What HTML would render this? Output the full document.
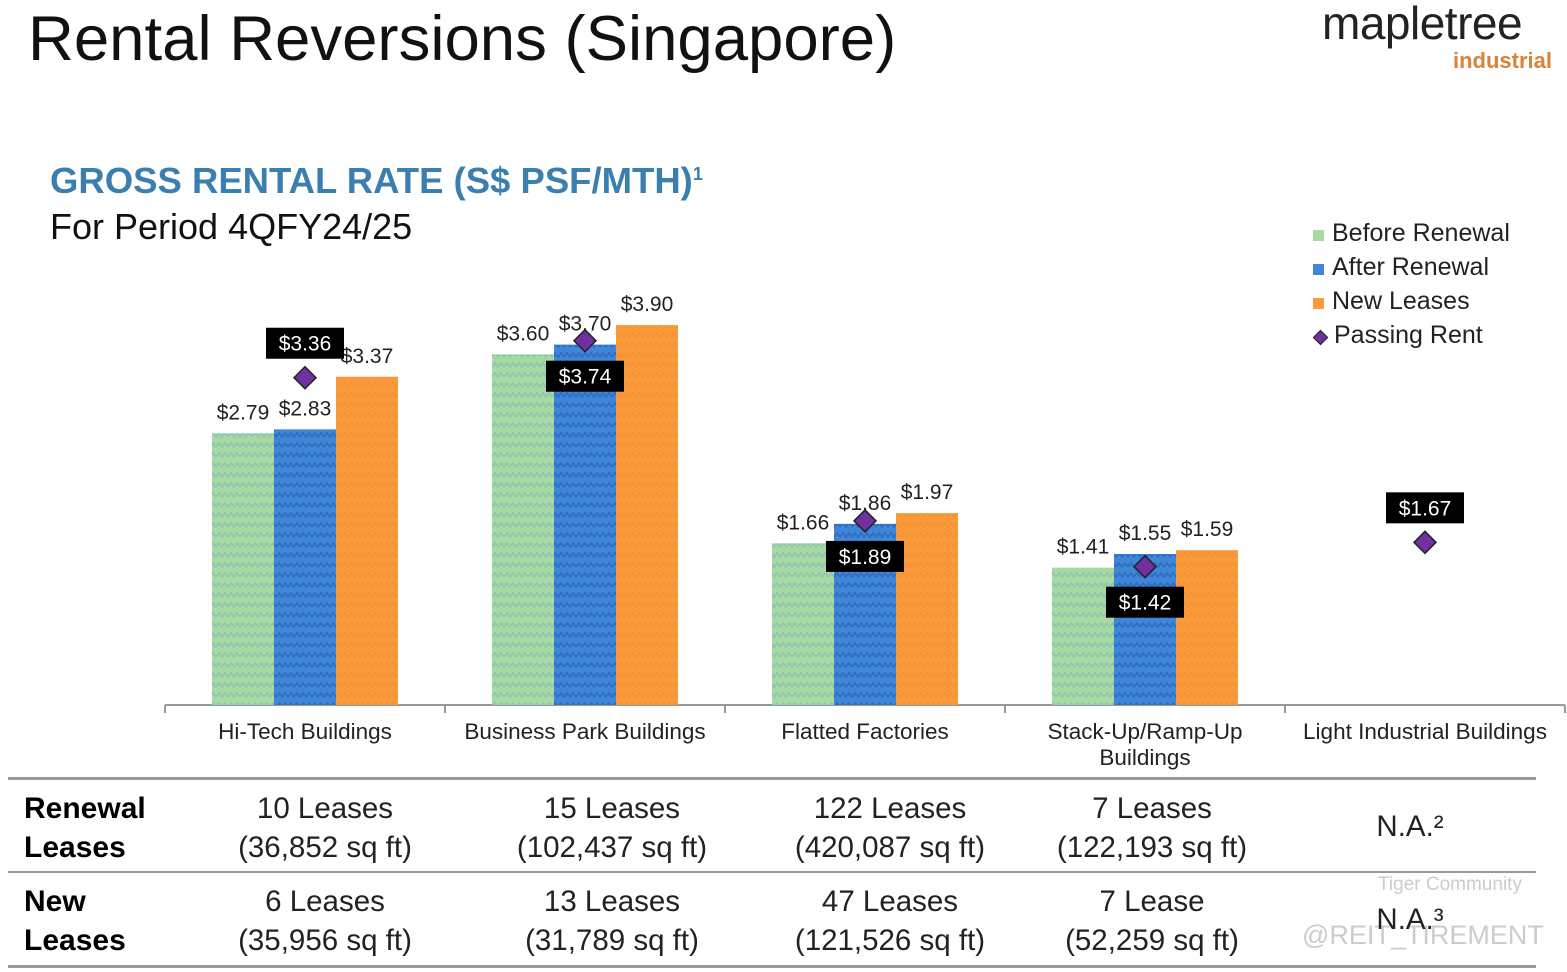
<!DOCTYPE html>
<html><head><meta charset="utf-8"><style>
body{margin:0;width:1567px;height:972px;background:#fff;font-family:"Liberation Sans",sans-serif;position:relative;overflow:hidden}
.a{position:absolute;white-space:nowrap}
</style></head><body>
<div class="a" style="left:28px;top:3px;font-size:63.5px;color:#111">Rental Reversions (Singapore)</div>
<div class="a" style="left:1322px;top:-4px;font-size:46px;color:#222;letter-spacing:-0.5px">mapletree</div>
<div class="a" style="left:1453px;top:48px;font-size:22px;color:#d9823a;font-weight:bold">industrial</div>
<div class="a" style="left:50px;top:160px;font-size:36.5px;color:#3a7fb0;font-weight:bold">GROSS RENTAL RATE (S$ PSF/MTH)<sup style="font-size:18px">1</sup></div>
<div class="a" style="left:50px;top:206px;font-size:36px;color:#111">For Period 4QFY24/25</div>
<svg id="chart" width="1567" height="972" style="position:absolute;left:0;top:0">
<defs>
<pattern id="pg" width="12" height="10" patternUnits="userSpaceOnUse"><rect width="12" height="10" fill="#a8d9a0"/><path d="M0 7 L3 3 L6 7 L9 3 L12 7" stroke="#8cc6b4" stroke-width="1.6" fill="none"/></pattern>
<pattern id="pb" width="12" height="10" patternUnits="userSpaceOnUse"><rect width="12" height="10" fill="#3f86d8"/><path d="M0 7 L3 3 L6 7 L9 3 L12 7" stroke="#2f6cc0" stroke-width="1.6" fill="none"/></pattern>
<pattern id="po" width="12" height="10" patternUnits="userSpaceOnUse"><rect width="12" height="10" fill="#fb9a3c"/><path d="M0 7 L3 3 L6 7 L9 3 L12 7" stroke="#f4902f" stroke-width="1.2" fill="none"/></pattern>
</defs>
</svg>
<div class="a" style="left:1313px;top:216px;font-size:25px;color:#222;line-height:34px">
<div><span style="display:inline-block;width:11px;height:11px;background:#a8d9a0;margin-right:8px"></span>Before Renewal</div>
<div><span style="display:inline-block;width:11px;height:11px;background:#3f86d8;margin-right:8px"></span>After Renewal</div>
<div><span style="display:inline-block;width:11px;height:11px;background:#fb9a3c;margin-right:8px"></span>New Leases</div>
<div><span style="display:inline-block;width:9px;height:9px;background:#7030a0;border:1px solid #222;transform:rotate(45deg);margin:0 8px 0 2px"></span>Passing Rent</div>
</div>
<div>
<div class="a" style="left:8px;top:777px;width:1528px;height:3px;background:#999"></div>
<div class="a" style="left:8px;top:871px;width:1528px;height:2px;background:#999"></div>
<div class="a" style="left:8px;top:965px;width:1528px;height:3px;background:#999"></div>
<div class="a" style="left:24px;top:789px;font-size:30px;font-weight:bold;line-height:39px">Renewal<br>Leases</div>
<div class="a" style="left:24px;top:882px;font-size:30px;font-weight:bold;line-height:39px">New<br>Leases</div>
</div>
<div class="a" style="left:1378px;top:874px;font-size:19px;color:#ccc">Tiger Community</div>
<div class="a" style="left:1302px;top:920px;font-size:27px;color:#ccc">@REIT_TIREMENT</div>
<script>
const categories=["Hi-Tech Buildings","Business Park Buildings","Flatted Factories","Stack-Up/Ramp-Up|Buildings","Light Industrial Buildings"];
const beforeRenewal=[2.79,3.60,1.66,1.41,null];
const afterRenewal=[2.83,3.70,1.86,1.55,null];
const newLeases=[3.37,3.90,1.97,1.59,null];
const passingRent=[3.36,3.74,1.89,1.42,1.67];
const passingLabelSide=["above","below","below","below","above"];
const renewalLeases=["10 Leases|(36,852 sq ft)","15 Leases|(102,437 sq ft)","122 Leases|(420,087 sq ft)","7 Leases|(122,193 sq ft)","N.A.²"];
const newLeaseRows=["6 Leases|(35,956 sq ft)","13 Leases|(31,789 sq ft)","47 Leases|(121,526 sq ft)","7 Lease|(52,259 sq ft)","N.A.³"];
const NS="http://www.w3.org/2000/svg",svg=document.getElementById('chart');
const x0=165,gw=280,base=705,ppu=97.4,bw=62;
const y=v=>base-v*ppu, cx=i=>x0+gw*i+gw/2;
function mk(t,a,p){const e=document.createElementNS(NS,t);for(const k in a)e.setAttribute(k,a[k]);(p||svg).appendChild(e);return e;}
const ax=mk('line',{x1:x0,x2:x0+gw*5,y1:base,y2:base,stroke:'#999','stroke-width':2});


for(let i=0;i<=5;i++){mk('line',{x1:x0+gw*i,x2:x0+gw*i,y1:base,y2:base+8,stroke:'#999','stroke-width':2});}
const series=[[beforeRenewal,'url(#pg)','before'],[afterRenewal,'url(#pb)','after'],[newLeases,'url(#po)','new']];
categories.forEach((c,i)=>{
 series.forEach((s,j)=>{const v=s[0][i];if(v==null)return;
  const bx=cx(i)-93+j*bw;
  const r=mk('rect',{x:bx,y:y(v),width:bw,height:base-y(v),fill:s[1]});
  
  
  const t=mk('text',{x:bx+bw/2,y:y(v)-14,'text-anchor':'middle','font-size':21,fill:'#222'});t.textContent='$'+v.toFixed(2);
  
  
 });
 const pv=passingRent[i],py=y(pv),px=cx(i);
 const d=mk('path',{d:`M${px} ${py-11} L${px+11} ${py} L${px} ${py+11} L${px-11} ${py}Z`,fill:'#7030a0',stroke:'#222','stroke-width':1.5});
 
 
 const by=passingLabelSide[i]=='above'?py-50:py+20;
 const g=mk('g',{});
 
 
 mk('rect',{x:px-39,y:by,width:78,height:31,fill:'#000'},g);
 const tt=mk('text',{x:px,y:by+23,'text-anchor':'middle','font-size':21,fill:'#fff'},g);tt.textContent='$'+pv.toFixed(2);
 c.split('|').forEach((l,k)=>{const t=mk('text',{x:px,y:739+k*26,'text-anchor':'middle','font-size':22.5,fill:'#222'});t.textContent=l;
  
  });
});
const colX=[325,612,890,1152,1410];
[[renewalLeases,789],[newLeaseRows,882]].forEach(([rows,top])=>rows.forEach((s,i)=>{
 const d=document.createElement('div');d.className='a';
 
 
 const lines=s.split('|');
 d.style.cssText=`left:${colX[i]-150}px;width:300px;text-align:center;top:${lines.length==1?top+18:top}px;font-size:29.5px;color:#222;line-height:39px`;
 d.innerHTML=lines.join('<br>');document.body.appendChild(d);
}));
</script>
</body></html>
